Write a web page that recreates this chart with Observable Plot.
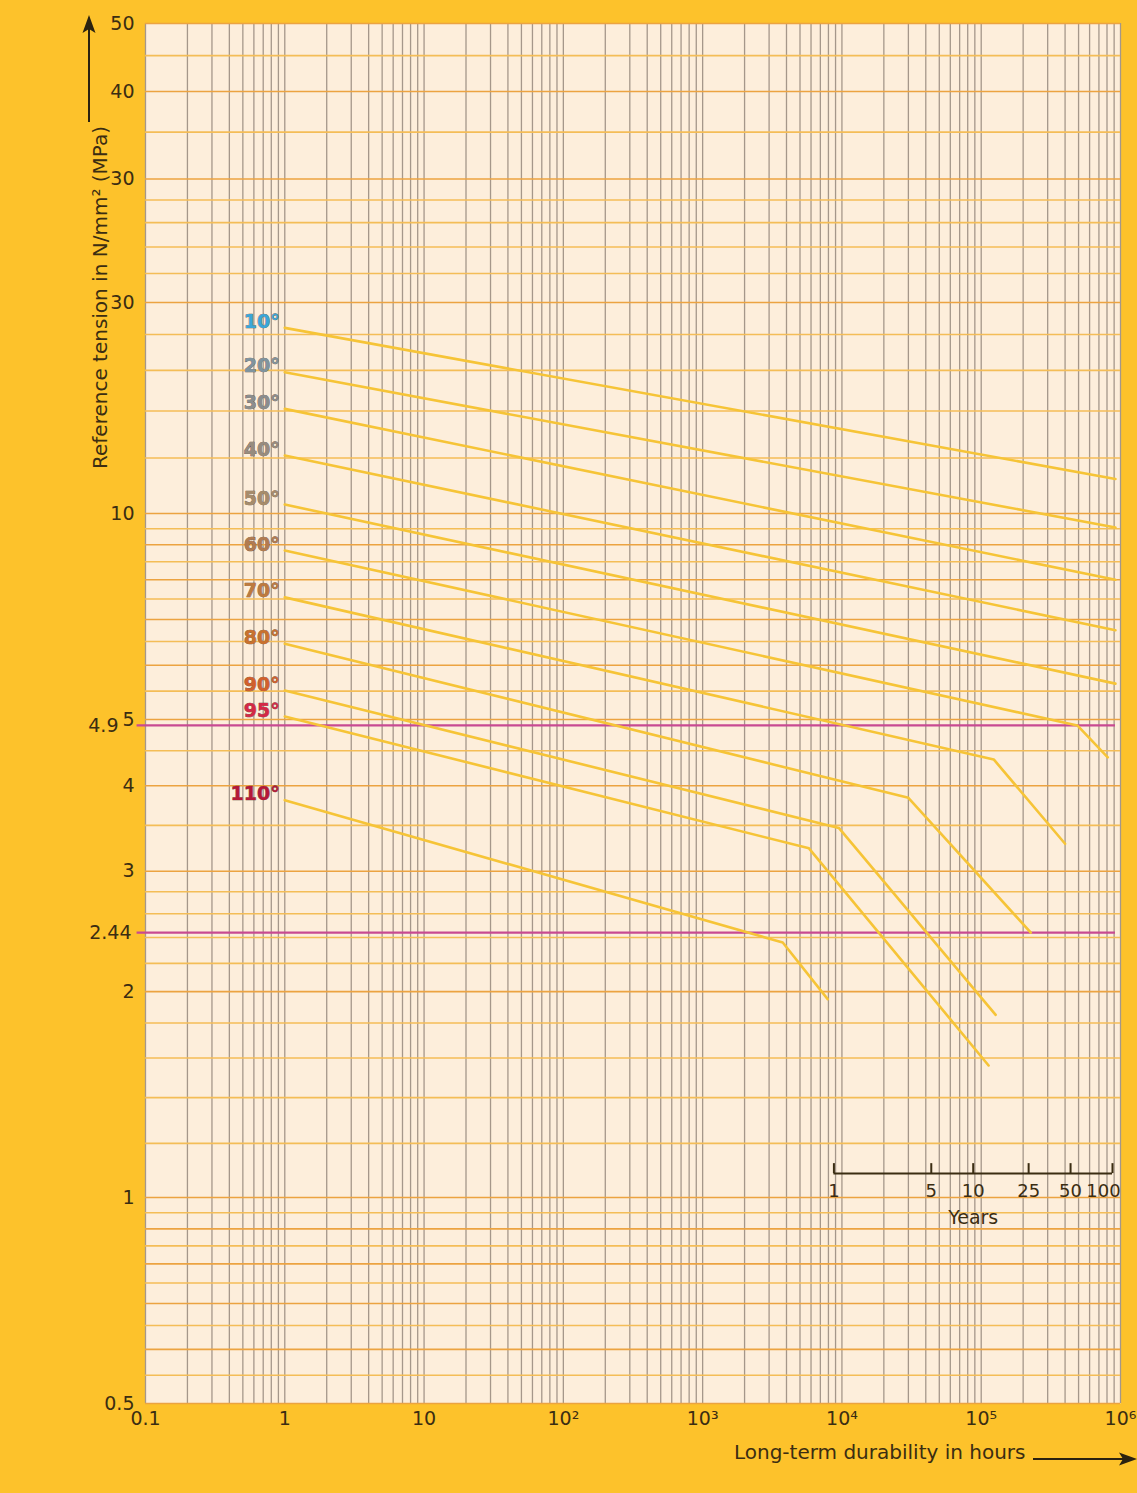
<!DOCTYPE html>
<html><head><meta charset="utf-8">
<script src="https://cdn.jsdelivr.net/npm/d3@7"></script>
<script src="https://cdn.jsdelivr.net/npm/@observablehq/plot@0.6"></script>
<style>html,body{margin:0;padding:0;background:#fdc22b;}</style>
</head><body><div id="chart"></div>
<script>
// ---- data ----
const temps = ["10°","20°","30°","40°","50°","60°","70°","80°","90°","95°","110°"];
const labelColors = ["#3aa6d8","#7f949f","#8a8d8e","#978c7f","#a68c6b","#b27b50","#be7a3e","#c9712e","#d2602c","#d42846","#b51838"];
const curveHours = [
  [1, 9.2e5],
  [1, 9.2e5],
  [1, 9.2e5],
  [1, 9.2e5],
  [1, 9.2e5],
  [1, 4.9e5, 8.1e5],
  [1, 1.23e5, 4.0e5],
  [1, 3.0e4, 2.27e5],
  [1, 9.5e3, 1.27e5],
  [1, 5.8e3, 1.13e5],
  [1, 3.76e3, 7.9e3]
];
const curveMPa = [
  [18.4, 11.2],
  [15.9, 9.54],
  [14.1, 8.0],
  [12.1, 6.75],
  [10.3, 5.64],
  [8.83, 4.9, 4.4],
  [7.54, 4.37, 3.29],
  [6.45, 3.84, 2.44],
  [5.51, 3.47, 1.85],
  [5.05, 3.24, 1.56],
  [3.81, 2.36, 1.95]
];
const refLevels = [4.9, 2.44];
const refLabels = ["4.9", "2.44"];
const yTickValues = [0.5,0.6,0.7,0.8,0.9,1,2,3,4,5,6,7,8,9,10,20,30,40,50];
const yTickLabels = ["0.5","0.6","0.7","0.8","0.9","1","2","3","4","5","6","7","8","9","10","30","30","40","50"];
const xTickValues = [0.1,1,10,100,1e3,1e4,1e5,1e6];
const xTickLabels = ["0.1","1","10","10²","10³","10⁴","10⁵","10⁶"];
const yearTicks = [1,5,10,25,50,100];
const yearLabels = ["1","5","10","25","50","100"];
const HOURS_PER_YEAR = 8760;

// ---- derived tables ----
const points = temps.flatMap((t,i) => curveHours[i].map((h,j) => ({temp: t, h, v: curveMPa[i][j]})));
const starts = temps.map((t,i) => ({temp: t, h: curveHours[i][0], v: curveMPa[i][0], color: labelColors[i]}));
const yLabelMap = new Map(yTickValues.map((v,i) => [v, yTickLabels[i]]));
const xLabelMap = new Map(xTickValues.map((v,i) => [v, xTickLabels[i]]));

const hGrid = [
  ...d3.range(10, 20).map(k => k/20),
  ...d3.range(5, 15).map(k => k/5),
  ...d3.range(6, 20).map(k => k/2),
  ...d3.range(5, 15).map(k => 2*k),
  ...d3.range(6, 11).map(k => 5*k)
];
const hMajor = hGrid.filter(v => yTickValues.some(t => Math.abs(t - v) < 1e-9));
const hMinor = hGrid.filter(v => !yTickValues.some(t => Math.abs(t - v) < 1e-9));
const vGrid = [];
for (let e = -1; e <= 5; e++) for (let k = 1; k <= 9; k++) vGrid.push(k * Math.pow(10, e));
vGrid.push(1e6);

const ink = "#3b2d12";
const yearAxisV = 1.084, yearTickTop = 1.121;

const arrows = (index, scales, values, dims) => {
  const g = d3.create("svg:g").attr("fill", "#2b2210").attr("stroke", "#2b2210");
  const ax = dims.marginLeft - 56;
  g.append("line").attr("x1", ax).attr("x2", ax).attr("y1", 122).attr("y2", 28).attr("stroke-width", 2);
  g.append("path").attr("d", `M${ax},15 L${ax-6.5},33 L${ax},29 L${ax+6.5},33 Z`).attr("stroke", "none");
  const ay = dims.height - dims.marginBottom + 56;
  g.append("line").attr("x1", 1033).attr("x2", 1124).attr("y1", ay).attr("y2", ay).attr("stroke-width", 2);
  g.append("path").attr("d", `M1137,${ay} L1119,${ay-6.5} L1123,${ay} L1119,${ay+6.5} Z`).attr("stroke", "none");
  return g.node();
};

const chart = Plot.plot({
  width: 1137,
  height: 1493,
  marginTop: 23,
  marginBottom: 90,
  marginLeft: 145,
  marginRight: 17,
  style: {background: "#fdc22b", fontFamily: "DejaVu Sans", fontSize: "18px", color: ink},
  x: {type: "log", domain: [0.1, 1e6]},
  y: {type: "log", domain: [0.5, 10, 50], range: [1403, 513, 23]},
  marks: [
    Plot.frame({fill: "#fdeedb", stroke: null}),
    Plot.ruleX(vGrid, {stroke: "#a5978a", strokeWidth: 1.3}),
    Plot.ruleY(hMinor, {stroke: "#f4bd57", strokeWidth: 1.6}),
    Plot.ruleY(hMajor, {stroke: "#eca341", strokeWidth: 1.6}),
    Plot.ruleY(refLevels, {x1: 0.087, x2: 9.2e5, stroke: "#c84a92", strokeWidth: 2.2}),
    Plot.line(points, {x: "h", y: "v", z: "temp", stroke: "#f6c437", strokeWidth: 2.6}),
    Plot.text(starts, {x: "h", y: "v", text: "temp", fill: "color", stroke: "#5a4636", strokeWidth: 0.6,
      dx: -5, dy: -6, textAnchor: "end", fontWeight: "bold", fontSize: 19}),
    Plot.axisX({ticks: xTickValues, tickFormat: d => xLabelMap.get(d), tickSize: 0, tickPadding: 8, label: null, fontSize: 19}),
    Plot.axisY({ticks: yTickValues, tickFormat: d => yLabelMap.get(d), tickSize: 0, tickPadding: 11, label: null, fontSize: 19}),
    Plot.text([refLabels[0]], {x: 0.1, y: refLevels[0], text: d => d, dx: -27, textAnchor: "end", fontSize: 19, fill: ink}),
    Plot.text([refLabels[1]], {x: 0.1, y: refLevels[1], text: d => d, dx: -14, textAnchor: "end", fontSize: 19, fill: ink}),
    Plot.ruleY([yearAxisV], {x1: HOURS_PER_YEAR * yearTicks[0], x2: HOURS_PER_YEAR * yearTicks[yearTicks.length-1], stroke: ink, strokeWidth: 2}),
    Plot.ruleX(yearTicks, {x: d => d * HOURS_PER_YEAR, y1: yearAxisV, y2: yearTickTop, stroke: ink, strokeWidth: 2}),
    Plot.text(yearTicks.slice(0, -1), {x: d => d * HOURS_PER_YEAR, y: yearAxisV, text: (d,i) => yearLabels[i], dy: 18, fontSize: 18, fill: ink}),
    Plot.text(yearTicks.slice(-1), {x: d => d * HOURS_PER_YEAR, y: yearAxisV, text: () => yearLabels[yearLabels.length-1], dy: 18, dx: -9, fontSize: 18, fill: ink}),
    Plot.text(["Years"], {x: 10 * HOURS_PER_YEAR, y: yearAxisV, text: d => d, dy: 44, fontSize: 19, fill: ink}),
    Plot.text(["Reference tension in N/mm² (MPa)"], {frameAnchor: "top-left", text: d => d, dx: -53, dy: 274, rotate: -90, textAnchor: "middle", fontSize: 20, fill: ink}),
    Plot.text(["Long-term durability in hours"], {frameAnchor: "bottom-right", text: d => d, dx: -95, dy: 55, textAnchor: "end", fontSize: 20, fill: ink}),
    arrows
  ]
});
document.getElementById("chart").appendChild(chart);
</script>
</body></html>
